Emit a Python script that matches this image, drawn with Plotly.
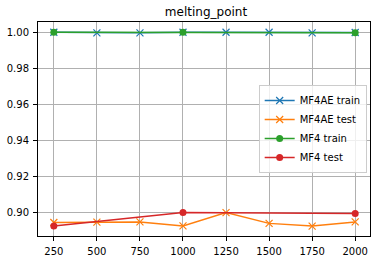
import plotly.graph_objects as go

sizes_ae = [250, 500, 750, 1000, 1250, 1500, 1750, 2000]
ae_train = [1.0, 0.9997, 0.9997, 1.0, 1.0, 1.0, 0.9997, 0.9999]
ae_test = [0.8945, 0.8947, 0.8948, 0.8926, 0.9000, 0.8940, 0.8925, 0.8948]
sizes_mf4 = [250, 1000, 2000]
mf4_train = [1.0, 1.0, 0.9998]
mf4_test = [0.8925, 0.9000, 0.8995]

fig = go.Figure()
fig.add_trace(go.Scatter(x=sizes_ae, y=ae_train, name="MF4AE train", mode="lines+markers",
                         line=dict(color="#1f77b4", width=1.5),
                         marker=dict(symbol="x-thin", size=7, line=dict(color="#1f77b4", width=1.2))))
fig.add_trace(go.Scatter(x=sizes_ae, y=ae_test, name="MF4AE test", mode="lines+markers",
                         line=dict(color="#ff7f0e", width=1.5),
                         marker=dict(symbol="x-thin", size=7, line=dict(color="#ff7f0e", width=1.2))))
fig.add_trace(go.Scatter(x=sizes_mf4, y=mf4_train, name="MF4 train", mode="lines+markers",
                         line=dict(color="#2ca02c", width=1.5),
                         marker=dict(symbol="circle", size=7, color="#2ca02c")))
fig.add_trace(go.Scatter(x=sizes_mf4, y=mf4_test, name="MF4 test", mode="lines+markers",
                         line=dict(color="#d62728", width=1.5),
                         marker=dict(symbol="circle", size=7, color="#d62728")))

axis_common = dict(showgrid=True, gridcolor="#b0b0b0", gridwidth=1, showline=True,
                   linecolor="black", linewidth=1, mirror=True, ticks="outside",
                   ticklen=4, tickcolor="black", zeroline=False, ticklabelstandoff=2,
                   tickfont=dict(family="DejaVu Sans", size=10, color="black"))

fig.update_layout(
    width=378, height=264,
    margin=dict(l=36, r=7, t=22, b=24),
    paper_bgcolor="white", plot_bgcolor="white",
    title=dict(text="melting_point", x=0.545, xanchor="center", y=0.955, yanchor="middle",
               font=dict(family="DejaVu Sans", size=12, color="black")),
    xaxis=dict(range=[158, 2086], tickvals=sizes_ae, **axis_common),
    yaxis=dict(range=[0.887, 1.0057], tickvals=[0.90, 0.92, 0.94, 0.96, 0.98, 1.00],
               tickformat=".2f", **axis_common),
    legend=dict(x=0.99, y=0.5, xanchor="right", yanchor="middle",
                bgcolor="rgba(255,255,255,0.8)", bordercolor="#cccccc", borderwidth=1,
                font=dict(family="DejaVu Sans", size=10, color="black"),
                tracegroupgap=0, itemwidth=30),
    showlegend=True,
)

fig.write_html("out.html")
